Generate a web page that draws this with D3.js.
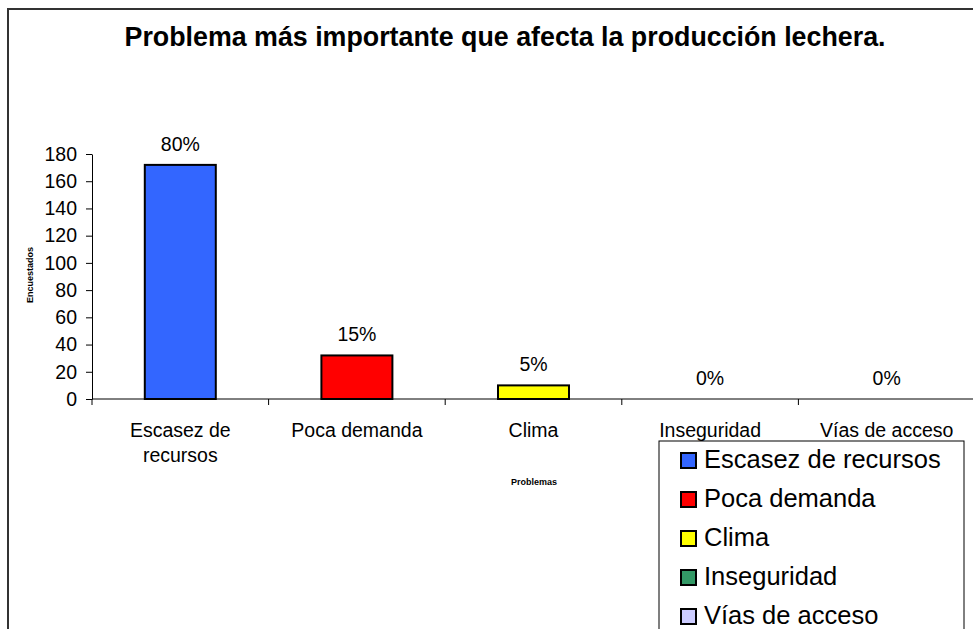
<!DOCTYPE html>
<html>
<head>
<meta charset="utf-8">
<script src="https://cdn.jsdelivr.net/npm/d3@7"></script>
<style>
  html, body { margin: 0; padding: 0; background: #fff; }
  svg { display: block; font-family: "Liberation Sans", Arial, sans-serif; }
</style>
</head>
<body>
<svg id="chart" width="973" height="629"></svg>
<script>
// Survey results: main problem affecting milk production
const categories = ["Escasez de recursos", "Poca demanda", "Clima", "Inseguridad", "Vías de acceso"];
const axisLabels = [["Escasez de", "recursos"], ["Poca demanda"], ["Clima"], ["Inseguridad"], ["Vías de acceso"]];
const counts = [172, 32, 10, 0, 0];
const percentLabels = ["80%", "15%", "5%", "0%", "0%"];
const colors = ["#3366FF", "#FF0000", "#FFFF00", "#339966", "#CCCCFF"];
const yTicks = [0, 20, 40, 60, 80, 100, 120, 140, 160, 180];

const svg = d3.select("#chart");

// outer chart frame (runs past the right and bottom edges)
svg.append("rect")
  .attr("x", 8).attr("y", 9)
  .attr("width", 1000).attr("height", 700)
  .attr("fill", "#fff")
  .attr("stroke", "#333").attr("stroke-width", 2);

svg.append("text")
  .attr("x", 505).attr("y", 46)
  .attr("text-anchor", "middle")
  .attr("font-size", 26.8).attr("font-weight", "bold")
  .text("Problema más importante que afecta la producción lechera.");

const plotLeft = 92, plotRight = 975, plotTop = 154, plotBottom = 399;

const x = d3.scaleBand().domain(categories).range([plotLeft, plotRight]).paddingInner(0).paddingOuter(0);
const y = d3.scaleLinear().domain([0, 180]).range([plotBottom, plotTop]);

// y axis
const yAxis = svg.append("g")
  .attr("transform", `translate(${plotLeft},0)`)
  .call(d3.axisLeft(y).tickValues(yTicks).tickSize(6).tickSizeOuter(0).tickPadding(9));
yAxis.select(".domain").attr("stroke", "#000");
yAxis.selectAll(".tick line").attr("stroke", "#000");
yAxis.selectAll(".tick text")
  .attr("font-size", 19.5).attr("fill", "#000")
  .attr("font-family", "Liberation Sans, Arial, sans-serif");

// x axis with ticks at category boundaries
const xAxisG = svg.append("g");
xAxisG.append("line")
  .attr("x1", plotLeft).attr("x2", plotRight)
  .attr("y1", plotBottom).attr("y2", plotBottom)
  .attr("stroke", "#000");
const boundaries = categories.map(c => x(c)).concat([plotRight]);
xAxisG.selectAll("line.tick").data(boundaries).join("line")
  .attr("class", "tick")
  .attr("x1", d => d).attr("x2", d => d)
  .attr("y1", plotBottom).attr("y2", plotBottom + 6)
  .attr("stroke", "#000");

// category labels
const catLabels = svg.append("g");
categories.forEach((c, i) => {
  const cx = x(c) + x.bandwidth() / 2;
  axisLabels[i].forEach((line, j) => {
    catLabels.append("text")
      .attr("x", cx)
      .attr("y", 437 + j * 25)
      .attr("text-anchor", "middle")
      .attr("font-size", 19.5)
      .text(line);
  });
});

// bars
const barW = 71;
svg.append("g").selectAll("rect").data(categories).join("rect")
  .attr("x", d => x(d) + x.bandwidth() / 2 - barW / 2)
  .attr("y", (d, i) => y(counts[i]))
  .attr("width", barW)
  .attr("height", (d, i) => plotBottom - y(counts[i]))
  .attr("fill", (d, i) => colors[i])
  .attr("stroke", "#000").attr("stroke-width", 2)
  .attr("display", (d, i) => counts[i] > 0 ? null : "none");

// value labels
svg.append("g").selectAll("text").data(categories).join("text")
  .attr("x", d => x(d) + x.bandwidth() / 2)
  .attr("y", (d, i) => y(counts[i]) - 14)
  .attr("text-anchor", "middle")
  .attr("font-size", 19.5)
  .text((d, i) => percentLabels[i]);

// axis titles
svg.append("text")
  .attr("transform", `translate(33,275) rotate(-90)`)
  .attr("text-anchor", "middle")
  .attr("font-size", 9).attr("font-weight", "bold")
  .text("Encuestados");
svg.append("text")
  .attr("x", 534).attr("y", 485)
  .attr("text-anchor", "middle")
  .attr("font-size", 9).attr("font-weight", "bold")
  .text("Problemas");

// legend
const legend = svg.append("g").attr("transform", "translate(659,441)");
legend.append("rect")
  .attr("x", 0).attr("y", 0).attr("width", 305).attr("height", 300)
  .attr("fill", "#fff").attr("stroke", "#000").attr("stroke-width", 1);
const items = legend.selectAll("g.item").data(categories).join("g")
  .attr("class", "item")
  .attr("transform", (d, i) => `translate(0,${19 + i * 39})`);
items.append("rect")
  .attr("x", 22).attr("y", -7).attr("width", 15).attr("height", 15)
  .attr("fill", (d, i) => colors[i])
  .attr("stroke", "#000").attr("stroke-width", 2);
items.append("text")
  .attr("x", 45).attr("y", 8)
  .attr("font-size", 25.5)
  .text(d => d);
</script>
</body>
</html>
